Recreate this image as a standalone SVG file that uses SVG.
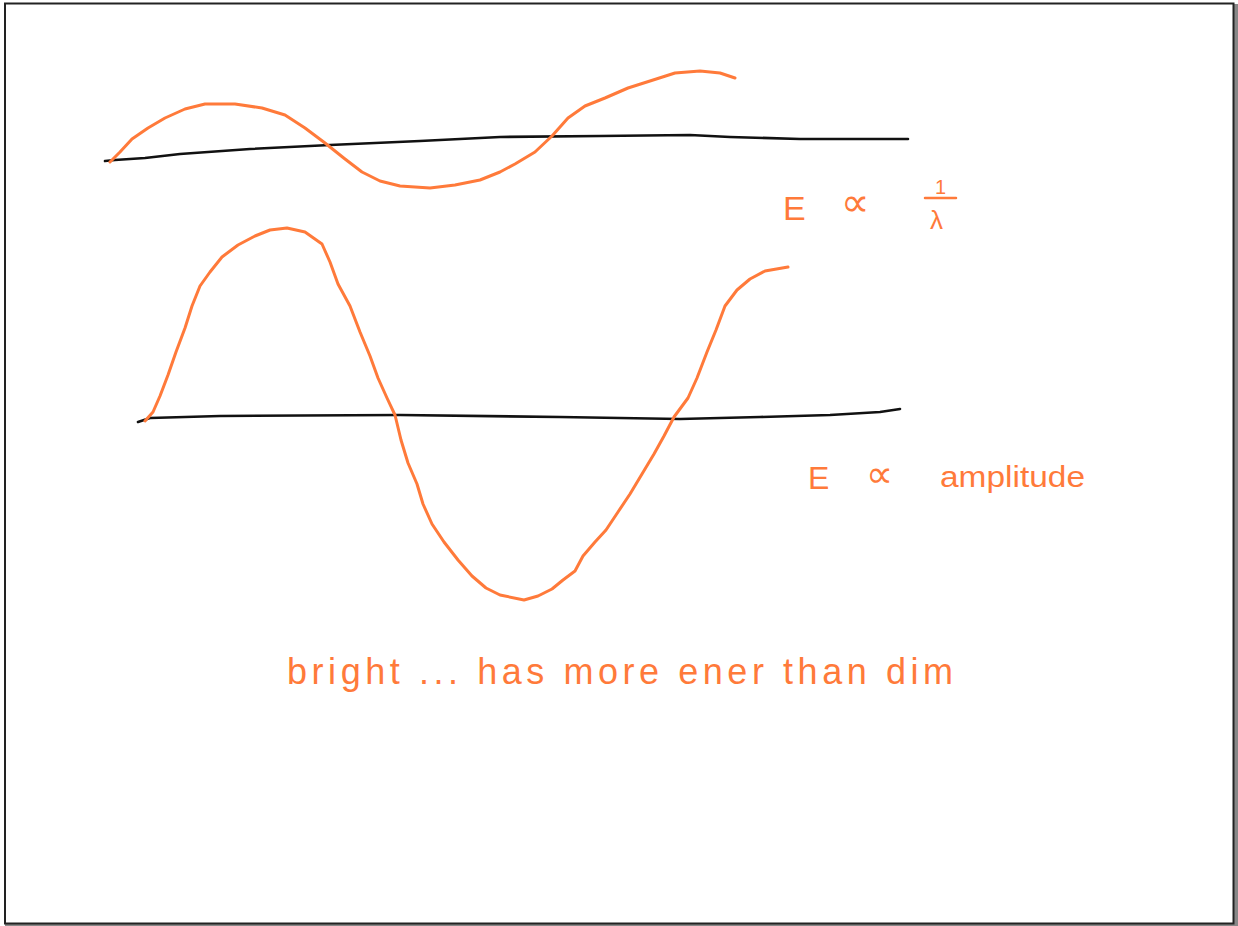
<svg xmlns="http://www.w3.org/2000/svg" width="1238" height="926" viewBox="0 0 1238 926">
<style>
.ink{fill:none;stroke-linecap:round;stroke-linejoin:round}
.blk{stroke:#111;stroke-width:2.6}
.org{stroke:#FF7A3A;stroke-width:3}
.hw{font-family:"Liberation Sans",Arial,sans-serif;fill:#FF7A3A}
.sym{font-family:"DejaVu Sans",sans-serif;fill:#FF7A3A}
</style>
<rect x="0" y="0" width="1238" height="926" fill="#fff"/>
<rect x="1234" y="4" width="4" height="922" fill="#888"/>
<rect x="5" y="924" width="1233" height="2" fill="#888"/>
<rect x="5" y="3.5" width="1228.5" height="920" fill="none" stroke="#222" stroke-width="2"/>
<g id="axis1">
<polyline class="ink blk" points="105,161 115,160 145,158 180,154 250,149 330,145 420,141 500,137 600,136 690,135 730,137 800,139 908,139"/>
</g>
<g id="wave1">
<polyline class="ink org" points="110,162 120,152 132,139 148,128 165,118 185,109 205,104 235,104 262,108 285,115 305,128 325,143 345,159 362,172 380,181 400,186 430,188 455,185 480,180 500,172 515,164 535,152 552,136 568,118 585,106 605,98 628,88 650,81 675,73 700,71 720,73 735,78"/>
</g>
<g id="axis2">
<polyline class="ink blk" points="138,422 150,418 220,416 400,415 560,417 680,419 760,417 830,415 880,412 900,409"/>
</g>
<g id="wave2">
<polyline class="ink org" points="145,421 153,412 160,396 168,375 176,352 185,328 192,306 200,286 210,272 222,257 238,245 255,236 270,230 287,228 305,232 322,244 330,262 338,284 350,306 360,332 370,356 378,378 387,398 395,415 401,440 408,463 417,484 423,504 432,524 444,542 458,560 472,576 486,588 500,595 524,600 538,596 552,589 563,580 575,571 583,556 595,542 606,530 618,512 630,494 642,474 654,454 664,436 674,417 688,398 697,378 707,352 716,330 725,306 737,290 750,279 765,271 788,267"/>
</g>
<g id="label-e-inverse">
<text class="hw" x="783" y="220" font-size="34">E</text>
<text class="sym" x="841" y="216" font-size="40">∝</text>
<text class="hw" x="935" y="194" font-size="20">1</text>
<line x1="925" y1="198" x2="956" y2="198" stroke="#FF7A3A" stroke-width="2.5" stroke-linecap="round"/>
<text class="hw" x="930" y="229" font-size="26">λ</text>
</g>
<g id="label-e-amplitude">
<text class="hw" x="808" y="489" font-size="32">E</text>
<text class="sym" x="866" y="487" font-size="38">∝</text>
<text class="hw" x="940" y="487" font-size="30" textLength="145" lengthAdjust="spacingAndGlyphs">amplitude</text>
</g>
<g id="label-bright">
<text class="hw" x="287" y="684" font-size="36" textLength="666" lengthAdjust="spacing">bright ... has more ener than dim</text>
</g>
</svg>
